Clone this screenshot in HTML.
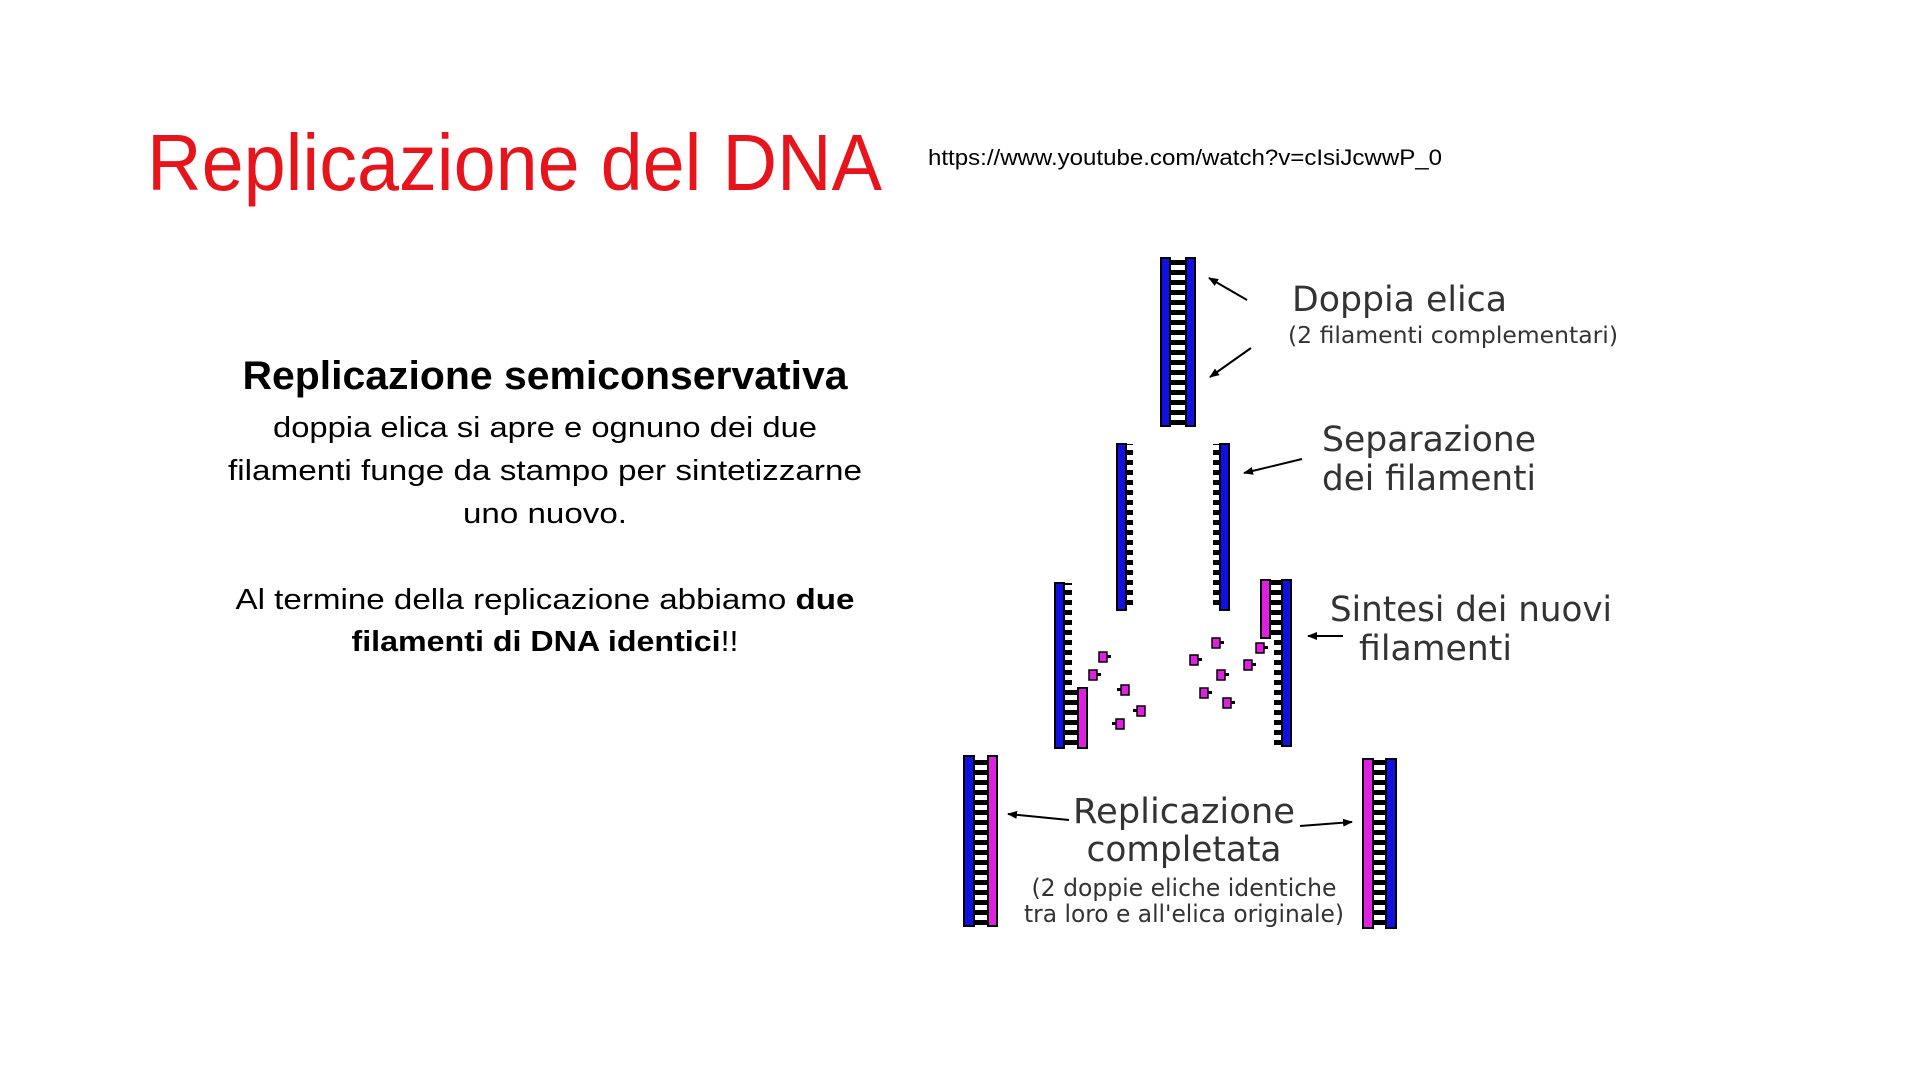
<!DOCTYPE html>
<html><head><meta charset="utf-8"><style>
html,body{margin:0;padding:0;background:#fff;width:1920px;height:1080px;overflow:hidden}
svg{display:block}
</style></head><body>
<svg width="1920" height="1080" viewBox="0 0 1920 1080" xmlns="http://www.w3.org/2000/svg">
<defs>
<pattern id="rungs" x="0" y="0" width="20" height="10" patternUnits="userSpaceOnUse">
<rect x="0" y="0" width="20" height="5" fill="#000"/><rect x="0" y="5" width="20" height="5" fill="#fff"/></pattern>
<marker id="ah" markerWidth="10" markerHeight="8" refX="9" refY="4" orient="auto" markerUnits="userSpaceOnUse">
<path d="M0,0 L10,4 L0,8 Z" fill="#000"/></marker>
</defs>
<g font-family="'Liberation Sans', sans-serif">
<text x="147" y="190" font-size="80" fill="#e8141c" textLength="735" lengthAdjust="spacingAndGlyphs">Replicazione del DNA</text>
<text x="928" y="165" font-size="22" fill="#000" textLength="514" lengthAdjust="spacingAndGlyphs">https://www.youtube.com/watch?v=cIsiJcwwP_0</text>
<g text-anchor="middle" fill="#000" font-size="29">
<text x="545" y="389" font-size="40" font-weight="bold" textLength="605" lengthAdjust="spacingAndGlyphs">Replicazione semiconservativa</text>
<text x="545" y="437" textLength="544" lengthAdjust="spacingAndGlyphs">doppia elica si apre e ognuno dei due</text>
<text x="545" y="480" textLength="634" lengthAdjust="spacingAndGlyphs">filamenti funge da stampo per sintetizzarne</text>
<text x="545" y="523" textLength="164" lengthAdjust="spacingAndGlyphs">uno nuovo.</text>
<text x="545" y="609" textLength="619" lengthAdjust="spacingAndGlyphs">Al termine della replicazione abbiamo <tspan font-weight="bold">due</tspan></text>
<text x="545" y="651" textLength="387" lengthAdjust="spacingAndGlyphs"><tspan font-weight="bold">filamenti di DNA identici</tspan>!!</text>
</g>
</g>
<g stroke="#000" stroke-width="2">
<rect x="1170" y="258" width="16" height="168" fill="url(#rungs)" stroke="none"/>
<rect x="1161" y="258" width="9" height="168" fill="#1010e0"/>
<rect x="1186" y="258" width="9" height="168" fill="#1010e0"/>
<rect x="1126" y="444" width="7" height="166" fill="url(#rungs)" stroke="none"/>
<rect x="1117" y="444" width="9" height="166" fill="#1010e0"/>
<rect x="1213" y="444" width="7" height="166" fill="url(#rungs)" stroke="none"/>
<rect x="1220" y="444" width="9" height="166" fill="#1010e0"/>
<rect x="1064" y="583" width="8" height="165" fill="url(#rungs)" stroke="none"/>
<rect x="1064" y="688" width="14" height="60" fill="url(#rungs)" stroke="none"/>
<rect x="1055" y="583" width="9" height="165" fill="#1010e0"/>
<rect x="1078" y="688" width="9" height="60" fill="#e020e0"/>
<rect x="1270" y="580" width="12" height="58" fill="url(#rungs)" stroke="none"/>
<rect x="1274" y="580" width="8" height="166" fill="url(#rungs)" stroke="none"/>
<rect x="1261" y="580" width="9" height="58" fill="#e020e0"/>
<rect x="1282" y="580" width="9" height="166" fill="#1010e0"/>
<rect x="974" y="756" width="14" height="170" fill="url(#rungs)" stroke="none"/>
<rect x="964" y="756" width="10" height="170" fill="#1010e0"/>
<rect x="988" y="756" width="9" height="170" fill="#e020e0"/>
<rect x="1373" y="759" width="13" height="169" fill="url(#rungs)" stroke="none"/>
<rect x="1363" y="759" width="10" height="169" fill="#e020e0"/>
<rect x="1386" y="759" width="10" height="169" fill="#1010e0"/>
</g>
<g fill="#e020e0" stroke="#000" stroke-width="1.5">
<rect x="1099" y="652" width="8" height="10"/><rect x="1089" y="670" width="8" height="10"/>
<rect x="1121" y="685" width="8" height="10"/><rect x="1137" y="706" width="8" height="10"/>
<rect x="1116" y="719" width="8" height="10"/><rect x="1190" y="655" width="8" height="10"/>
<rect x="1212" y="638" width="8" height="10"/><rect x="1217" y="670" width="8" height="10"/>
<rect x="1200" y="688" width="8" height="10"/><rect x="1223" y="698" width="8" height="10"/>
<rect x="1244" y="660" width="8" height="10"/><rect x="1256" y="643" width="8" height="10"/>
</g>
<g fill="#000">
<rect x="1107" y="655" width="4" height="3"/><rect x="1097" y="673" width="4" height="3"/>
<rect x="1117" y="688" width="4" height="3"/><rect x="1133" y="709" width="4" height="3"/>
<rect x="1112" y="722" width="4" height="3"/><rect x="1198" y="658" width="4" height="3"/>
<rect x="1220" y="641" width="4" height="3"/><rect x="1225" y="673" width="4" height="3"/>
<rect x="1208" y="691" width="4" height="3"/><rect x="1231" y="701" width="4" height="3"/>
<rect x="1252" y="663" width="4" height="3"/><rect x="1264" y="646" width="4" height="3"/>
</g>
<g stroke="#000" stroke-width="2" marker-end="url(#ah)" fill="none">
<line x1="1247" y1="300" x2="1209" y2="278"/>
<line x1="1251" y1="348" x2="1210" y2="377"/>
<line x1="1302" y1="459" x2="1244" y2="473"/>
<line x1="1343" y1="636" x2="1308" y2="636"/>
<line x1="1069" y1="820" x2="1008" y2="814"/>
<line x1="1300" y1="826" x2="1352" y2="822"/>
</g>
<g font-family="'DejaVu Sans', 'Liberation Sans', sans-serif" fill="#333">
<text x="1292" y="311" font-size="35" textLength="215" lengthAdjust="spacingAndGlyphs">Doppia elica</text>
<text x="1288" y="343" font-size="23" textLength="330" lengthAdjust="spacingAndGlyphs">(2 filamenti complementari)</text>
<text x="1322" y="451" font-size="35" textLength="214" lengthAdjust="spacingAndGlyphs">Separazione</text>
<text x="1322" y="490" font-size="35" textLength="214" lengthAdjust="spacingAndGlyphs">dei filamenti</text>
<text x="1330" y="621" font-size="35" textLength="282" lengthAdjust="spacingAndGlyphs">Sintesi dei nuovi</text>
<text x="1359" y="660" font-size="35" textLength="153" lengthAdjust="spacingAndGlyphs">filamenti</text>
<g text-anchor="middle">
<text x="1184" y="823" font-size="35" textLength="222" lengthAdjust="spacingAndGlyphs">Replicazione</text>
<text x="1184" y="861" font-size="35" textLength="195" lengthAdjust="spacingAndGlyphs">completata</text>
<text x="1184" y="896" font-size="24" textLength="305" lengthAdjust="spacingAndGlyphs">(2 doppie eliche identiche</text>
<text x="1184" y="922" font-size="24" textLength="320" lengthAdjust="spacingAndGlyphs">tra loro e all'elica originale)</text>
</g>
</g>
</svg>
</body></html>
